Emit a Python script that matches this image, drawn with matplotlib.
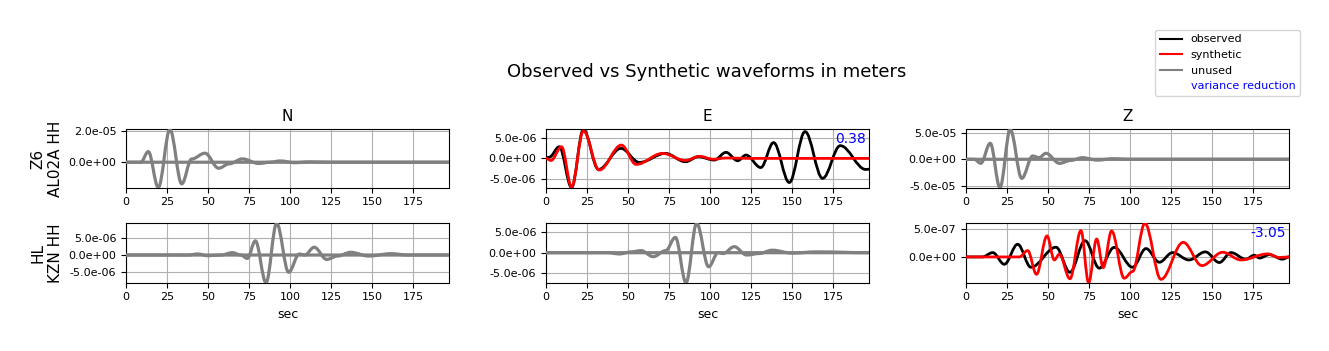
import matplotlib
matplotlib.use("Agg")
import numpy as np
import matplotlib.pyplot as plt
from matplotlib.path import Path
from matplotlib.patches import PathPatch
from matplotlib.lines import Line2D
from matplotlib.ticker import FormatStrFormatter

# ---------------- data ----------------
components = ["N", "E", "Z"]
stations = ["Z6\nAL02A HH", "HL\nKZN HH"]
t_end = 197.0

# AL02A  (values in 1e-6 m)
al02a_N_obs_t = [0, 9, 13.6, 19.7, 26.8, 34, 40, 48.2, 56.5, 63, 71, 81, 88, 94, 103, 112, 125, 197]
al02a_N_obs_v = [0, 0, 6.7, -16.0, 20.7, -13.7, 2.0, 5.7, -3.8, -1.0, 2.1, -0.8, 0, 0.8, -0.3, 0.2, 0, 0]
al02a_N_syn_t = [0, 197]
al02a_N_syn_v = [0, 0]

al02a_E_obs_t = [0, 2, 8.1, 15.6, 22.8, 32, 45.7, 57, 72.8, 85, 93, 102.6, 109.8, 116.9, 122, 131,
                 138.8, 148.4, 158, 168.7, 179.5, 195, 197]
al02a_E_obs_v = [0, 0.3, 2.8, -7.0, 6.95, -2.66, 2.4, -0.97, 1.2, -0.8, 0.4, -0.4, 1.45, -0.56, 0.8, -2.2,
                 3.8, -5.8, 6.45, -4.8, 3.06, -2.66, -2.6]
al02a_E_syn_t = [0, 3, 9.5, 15.6, 22.8, 32.5, 46, 55, 71, 85, 93.5, 102, 110, 125, 197]
al02a_E_syn_v = [0, -0.5, 2.8, -6.85, 6.6, -2.8, 3.2, -1.45, 1.2, -0.5, 0.5, -0.2, 0.1, 0, 0]

al02a_Z_obs_t = [0, 5, 9, 14.8, 20.7, 27, 34, 40.7, 44.5, 48.8, 57, 64, 71, 80, 90, 100, 197]
al02a_Z_obs_v = [0, 0, -7.5, 30.0, -52.8, 55.8, -35.6, 6.2, 3.1, 11.2, -7.5, -2.0, 3.0, -1.5, 1.0, 0, 0]
al02a_Z_syn_t = [0, 197]
al02a_Z_syn_v = [0, 0]

# KZN  (N, E in 1e-6 m ; Z in 1e-7 m)
kzn_N_obs_t = [0, 38, 43.7, 50, 58, 65, 70, 74, 78.9, 85.4, 91.9, 99.2, 105.7, 109, 114.8, 122.4,
               129, 137, 148, 161.6, 172, 197]
kzn_N_obs_v = [0, 0, 0.3, -0.2, 0, 0.7, 0, -1.0, 4.2, -8.2, 9.4, -5.1, 0.3, 0, 2.3, -1.3,
               -0.3, 0.8, -0.3, 0.4, 0, 0]
kzn_N_syn_t = [0, 197]
kzn_N_syn_v = [0, 0]

kzn_E_obs_t = [0, 38, 44.7, 52, 58, 65.4, 73, 78.9, 85.4, 91.9, 99.2, 105, 108, 114.8, 122.4, 130,
               138, 150, 165, 197]
kzn_E_obs_v = [0, 0, -0.3, 0.2, 0.5, -0.97, 0.5, 3.7, -7.25, 7.1, -3.4, 0, -0.2, 1.45, -0.56, -0.2,
               0.6, -0.1, 0.2, 0]
kzn_E_syn_t = [0, 197]
kzn_E_syn_v = [0, 0]

kzn_Z_obs_t = [0, 10, 16.3, 23.4, 31.5, 39.6, 54.9, 63.4, 72.6, 81.3, 90.4, 101.6, 109.8, 117.9,
               126, 136, 146, 154.5, 161.6, 170.7, 175.8, 179, 185, 193, 197]
kzn_Z_obs_v = [0, 0, 0.77, -1.31, 2.26, -1.84, 1.73, -2.74, 2.9, -2.0, 1.7, -1.84, 1.49, -0.95,
               0.77, -0.54, 0.9, -1.0, 0.77, -0.4, 0.3, -0.2, 0.4, -0.4, 0]
kzn_Z_syn_t = [0, 32.5, 37.6, 43, 49.4, 53.9, 56.9, 63.4, 70.1, 74.8, 79.7, 83.7, 88.8, 96.5, 101.6,
               109.1, 118.9, 132.5, 143.9, 156.5, 167.7, 184, 191, 197]
kzn_Z_syn_v = [0, 0, 1.13, -3.1, 3.75, -0.54, 0.48, -3.9, 4.7, -4.6, 3.2, -1.9, 4.64, -3.8, -2.6,
               6.0, -4.0, 2.6, -1.55, 0.83, -0.54, 0.54, -0.1, 0]

scale = [[1e-6, 1e-6, 1e-6], [1e-6, 1e-6, 1e-7]]
used = [[False, True, False], [False, False, True]]
var_red = [[None, "0.38", None], [None, None, "-3.05"]]

traces = [
    [(al02a_N_obs_t, al02a_N_obs_v, al02a_N_syn_t, al02a_N_syn_v),
     (al02a_E_obs_t, al02a_E_obs_v, al02a_E_syn_t, al02a_E_syn_v),
     (al02a_Z_obs_t, al02a_Z_obs_v, al02a_Z_syn_t, al02a_Z_syn_v)],
    [(kzn_N_obs_t, kzn_N_obs_v, kzn_N_syn_t, kzn_N_syn_v),
     (kzn_E_obs_t, kzn_E_obs_v, kzn_E_syn_t, kzn_E_syn_v),
     (kzn_Z_obs_t, kzn_Z_obs_v, kzn_Z_syn_t, kzn_Z_syn_v)],
]

yticks = [[[0, 2e-5], [-5e-6, 0, 5e-6], [-5e-5, 0, 5e-5]],
          [[-5e-6, 0, 5e-6], [-5e-6, 0, 5e-6], [0, 5e-7]]]


def smooth_path(ax, t, v, color, lw, z):
    """Draw a trace through its extrema as a smooth curve (cubic Bezier segments)."""
    t = np.asarray(t, float)
    v = np.asarray(v, float)
    verts = [(t[0], v[0])]
    codes = [Path.MOVETO]
    for i in range(len(t) - 1):
        dt = t[i + 1] - t[i]
        verts += [(t[i] + 0.36 * dt, v[i]), (t[i + 1] - 0.36 * dt, v[i + 1]), (t[i + 1], v[i + 1])]
        codes += [Path.CURVE4] * 3
    patch = PathPatch(Path(verts, codes), facecolor="none", edgecolor=color, lw=lw,
                      zorder=z, capstyle="round", joinstyle="round")
    ax.add_patch(patch)


fig = plt.figure(figsize=(13.29, 3.51), dpi=100)
W, H = 1329.0, 351.0
lefts = [126, 546, 966]
rows = [(129.5, 187.5), (223.3, 282.7)]

for r in range(2):
    for c in range(3):
        y0, y1 = rows[r]
        ax = fig.add_axes([lefts[c] / W, 1 - y1 / H, 323 / W, (y1 - y0) / H])
        ot, ov, st, sv = traces[r][c]
        ov = np.asarray(ov) * scale[r][c]
        sv = np.asarray(sv) * scale[r][c]
        if used[r][c]:
            smooth_path(ax, ot, ov, "black", 2.0, 3)
            smooth_path(ax, st, sv, "red", 2.0, 4)
        else:
            smooth_path(ax, ot, ov, "gray", 2.3, 3)
            smooth_path(ax, st, sv, "gray", 2.3, 3)
        lo = min(ov.min(), sv.min())
        hi = max(ov.max(), sv.max())
        ax.set_xlim(0, t_end)
        ax.set_ylim(lo, hi)
        ax.set_xticks([0, 25, 50, 75, 100, 125, 150, 175])
        ax.set_yticks(yticks[r][c])
        ax.yaxis.set_major_formatter(FormatStrFormatter("%.1e"))
        ax.tick_params(labelsize=8)
        ax.grid(True, color="#b0b0b0", lw=0.8)
        ax.set_axisbelow(True)
        if r == 0:
            ax.set_title(components[c], fontsize=11)
        if r == 1:
            ax.set_xlabel("sec", fontsize=9)
        if c == 0:
            ax.set_ylabel(stations[r], fontsize=11)
        if var_red[r][c] is not None:
            ax.text(0.99, 0.96, var_red[r][c], transform=ax.transAxes, ha="right", va="top",
                    color="blue", fontsize=10)

fig.text(707 / W, 1 - 72 / H, "Observed vs Synthetic waveforms in meters", ha="center", va="center",
         fontsize=13)

handles = [Line2D([], [], color="black", lw=1.5), Line2D([], [], color="red", lw=1.5),
           Line2D([], [], color="gray", lw=1.5), Line2D([], [], color="none")]
labels = ["observed", "synthetic", "unused", "variance reduction"]
leg = fig.legend(handles, labels, loc="upper right", bbox_to_anchor=(1300 / W, 1 - 30 / H),
                 borderaxespad=0, fontsize=8)
leg.get_texts()[3].set_color("blue")

fig.savefig("out.png", dpi=100)
